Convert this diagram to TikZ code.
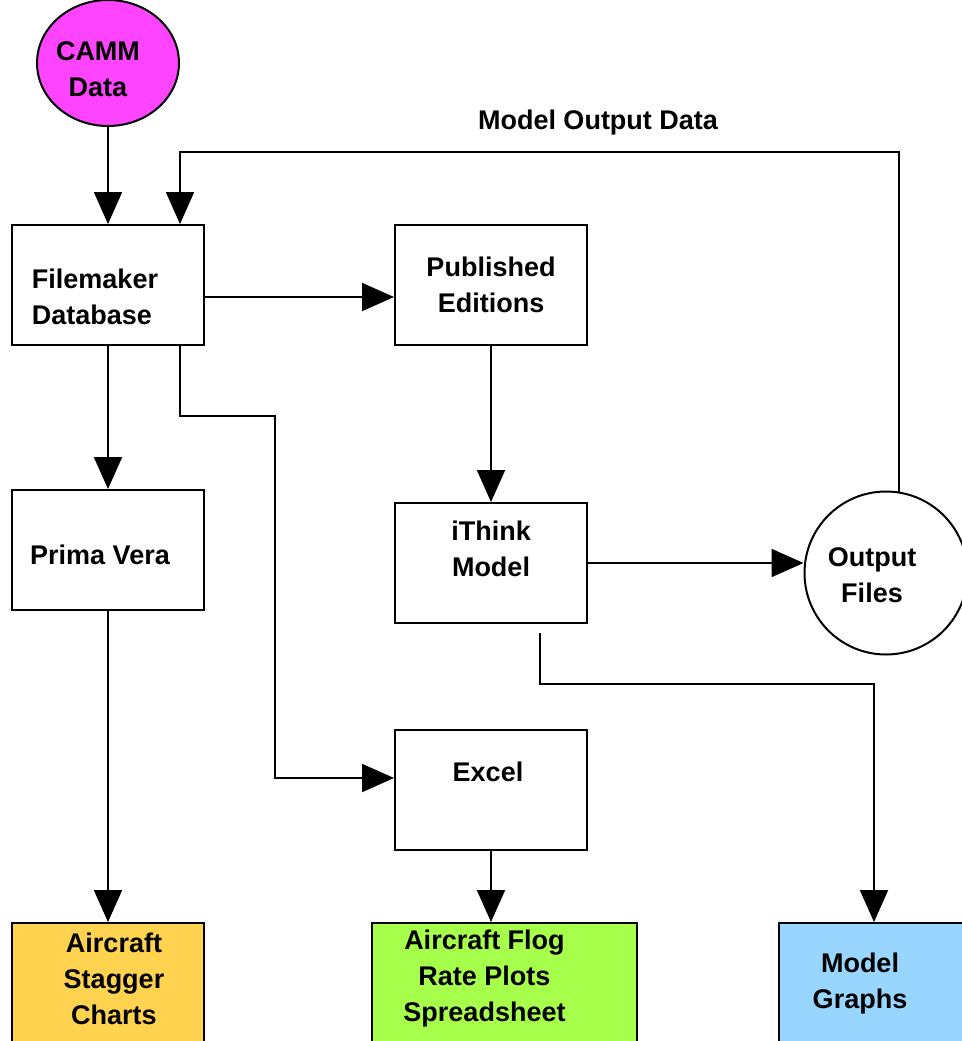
\documentclass[tikz,border=0pt]{standalone}
\usepackage{fontspec}
\setmainfont{Liberation Sans}
\usetikzlibrary{arrows.meta,shapes.geometric}
\definecolor{cammpink}{HTML}{FF44FF}
\definecolor{staggerorange}{HTML}{FFD350}
\definecolor{floggreen}{HTML}{A6FF4A}
\definecolor{graphsblue}{HTML}{99D6FF}

\begin{document}
\begin{tikzpicture}[
  x=1pt,
  y=-1pt,
  every node/.style = {
    font=\fontsize{27}{36}\selectfont\bfseries
  },
  block/.style = {
    draw,
    line width=2pt,
    shape=rectangle,
    inner sep=0pt,
    minimum width=192pt,
    minimum height=120pt
  },
  sink/.style = {
    block,
    minimum height=134pt,
    anchor=north
  },
  flow/.style = {
    -{Triangle[length=32pt,width=28pt]},
    line width=2pt
  },
]
  \fill[white] (0,0) rectangle (961,1041);
  \useasboundingbox (0,0) rectangle (961,1041);

  \node (camm)[
    ellipse,
    draw,
    line width=2pt,
    fill=cammpink,
    minimum width=142pt,
    minimum height=126pt,
    inner sep=0pt,
    label={[align=center,xshift=-10pt,yshift=-6pt]center:{CAMM\\Data}}
  ] at (108,63) {};
  \node (filemaker)[
    block,
    label={[align=left,xshift=-13pt,yshift=-12pt]center:{Filemaker\\Database}}
  ] at (108,285) {};
  \node (published)[
    block,
    label={[align=center]center:{Published\\Editions}}
  ] at (491,285) {};
  \node (primavera)[
    block,
    label={[xshift=-8pt,yshift=-5pt]center:{Prima Vera}}
  ] at (108,550) {};
  \node (ithink)[
    block,
    label={[align=center,yshift=14pt]center:{iThink\\Model}}
  ] at (491,563) {};
  \node (excel)[
    block,
    label={[xshift=-3pt,yshift=18pt]center:{Excel}}
  ] at (491,790) {};
  \node (output)[
    circle,
    draw,
    line width=2pt,
    minimum size=163pt,
    inner sep=0pt,
    label={[align=center,xshift=-14pt,yshift=-2pt]center:{Output\\Files}}
  ] at (886,573) {};
  \node (stagger)[
    sink,
    fill=staggerorange,
    label={[align=center,xshift=6pt,yshift=11pt]center:{Aircraft\\Stagger\\Charts}}
  ] at (108,922) {};
  \node (flog)[
    sink,
    minimum width=265pt,
    fill=floggreen,
    label={[align=center,xshift=-20pt,yshift=11pt]center:{Aircraft Flog\\Rate Plots\\Spreadsheet}}
  ] at (504.5,922) {};
  \node (graphs)[
    sink,
    minimum width=190pt,
    fill=graphsblue,
    label={[align=center,xshift=-14pt,yshift=6pt]center:{Model\\Graphs}}
  ] at (874,922) {};
  \node (feedback) at (598,123) {Model Output Data};

  \draw[flow] (camm.south) -- (filemaker.north);
  \draw[flow] (output.81) -- ++(0,-340) -| ([xshift=72pt]filemaker.north);
  \draw[flow] ([yshift=-12pt]filemaker.east) -- ([yshift=-12pt]published.west);
  \draw[flow] (filemaker.south) -- (primavera.north);
  \draw[flow] ([xshift=72pt]filemaker.south) -- ++(0,70) -- ++(95,0) |- ([yshift=12pt]excel.west);
  \draw[flow] (published.south) -- (ithink.north);
  \draw[flow] (ithink.east) -- (ithink.east -| output.west);
  \draw[flow] ([xshift=49pt,yshift=-9pt]ithink.south) -- ++(0,51) -| (graphs.north);
  \draw[flow] (excel.south) -- (excel.south |- flog.north);
  \draw[flow] (primavera.south) -- (stagger.north);
\end{tikzpicture}
\end{document}
